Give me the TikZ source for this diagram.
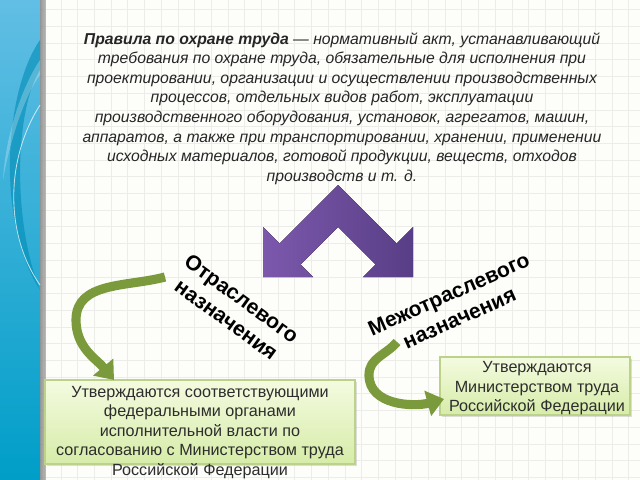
\documentclass[tikz,border=0pt]{standalone}
\usepackage{fontspec}
\setmainfont{Liberation Sans}
\usepackage{xcolor}
\usepackage{tikz}
\usetikzlibrary{arrows.meta,shadows}

\definecolor{paper}{RGB}{253,253,250}
\definecolor{gridgray}{RGB}{236,236,233}
\definecolor{paneltop}{RGB}{98,190,228}
\definecolor{panelbot}{RGB}{0,158,200}
\definecolor{panelwave}{RGB}{0,140,182}
\definecolor{chevleft}{RGB}{124,88,172}
\definecolor{chevright}{RGB}{88,62,134}
\definecolor{leafgreen}{RGB}{122,154,60}
\definecolor{boxfilla}{RGB}{244,251,224}
\definecolor{boxfillb}{RGB}{214,236,168}
\definecolor{boxline}{RGB}{188,210,138}
\definecolor{inkgray}{RGB}{45,45,45}

\tikzset{
  greenbox/.style={draw=boxline, line width=0.8pt, top color=boxfilla,
    bottom color=boxfillb, inner sep=0pt,
    drop shadow={opacity=0.25, shadow xshift=1.5pt, shadow yshift=-1.5pt}},
  boxtext/.style={align=center, text=inkgray,
    font=\fontsize{11.5pt}{13.9pt}\selectfont},
  maintext/.style={align=center, text=black!85,
    font=\fontsize{11.2pt}{13.9pt}\selectfont\itshape},
  tiltlabel/.style={align=center, text=black,
    font=\fontsize{15pt}{18.5pt}\selectfont\bfseries},
  bentarrow/.style={leafgreen, line width=6.5pt,
    -{Triangle[width=18pt,length=12pt]}}
}

\begin{document}
\begin{tikzpicture}[x=0.025cm, y=-0.025cm]
    \useasboundingbox (0,0) rectangle (640,480);
    \fill[paper] (0,0) rectangle (640,480);
    \foreach \gx in {44.2,60.9,...,640}
        \draw[gridgray, line width=0.4pt] (\gx,0) -- (\gx,480);
    \foreach \gy in {9.6,26.3,...,480}
        \draw[gridgray, line width=0.4pt] (40,\gy) -- (640,\gy);

    \fill[top color=paneltop, bottom color=panelbot] (0,0) rectangle (40,480);
    \fill[left color=black!30, right color=paper, opacity=0.5] (40,0) rectangle (46,480);
    \fill[panelwave, opacity=0.6] (40,40) .. controls (5,90) and (-5,220) .. (40,290)
        .. controls (12,220) and (15,110) .. (40,70) -- cycle;
    \fill[white, opacity=0.25] (40,60) .. controls (20,90) and (5,140) .. (3,180)
        .. controls (10,140) and (25,95) .. (40,75) -- cycle;
    \draw[white, opacity=0.7, line width=0.6pt] (40,105) .. controls (5,160) and (5,235) .. (40,285);

    \filldraw[left color=chevleft, right color=chevright, draw=none]
        (338,185) -- (279.5,243.5) -- (263,227) -- (263,277) -- (313,277)
        -- (300.5,264.5) -- (338,227) -- (375.5,264.5) -- (363,277)
        -- (413,277) -- (413,227) -- (396.5,243.5) -- cycle;

    \node[maintext] (rules) at (342,108.5)
        {\textbf{Правила по охране труда} — нормативный акт, устанавливающий\\
        требования по охране труда, обязательные для исполнения при\\
        проектировании, организации и осуществлении производственных\\
        процессов, отдельных видов работ, эксплуатации\\
        производственного оборудования, установок, агрегатов, машин,\\
        аппаратов, а также при транспортировании, хранении, применении\\
        исходных материалов, готовой продукции, веществ, отходов\\
        производств и т. д.};

    \node[tiltlabel, rotate=-36] (branch) at (234,309) {Отраслевого\\назначения};
    \node[tiltlabel, rotate=24] (cross) at (454,306) {Межотраслевого\\назначения};

    \node[greenbox, minimum width=7.75cm, minimum height=2.1cm] (branchbox) at (200,422) {};
    \node[boxtext] (branchtext) at (200,432.5)
        {Утверждаются соответствующими\\
        федеральными органами\\
        исполнительной власти по\\
        согласованию с Министерством труда\\
        Российской Федерации};

    \node[greenbox, minimum width=4.75cm, minimum height=1.45cm] (crossbox) at (535,386) {};
    \node[boxtext] (crosstext) at (537,388.5)
        {Утверждаются\\
        Министерством труда\\
        Российской Федерации};

    \coordinate (branchstart) at (165,277);
    \coordinate (branchtip) at (114,380);
    \coordinate (crossstart) at (397,342);
    \coordinate (crosstip) at (444,399);
    \draw[bentarrow] (branchstart) to[out=195, in=90] (76,320) to[out=-90, in=130] (branchtip);
    \draw[bentarrow] (crossstart) to[out=230, in=90] (369,375) to[out=-90, in=195] (crosstip);
\end{tikzpicture}
\end{document}
